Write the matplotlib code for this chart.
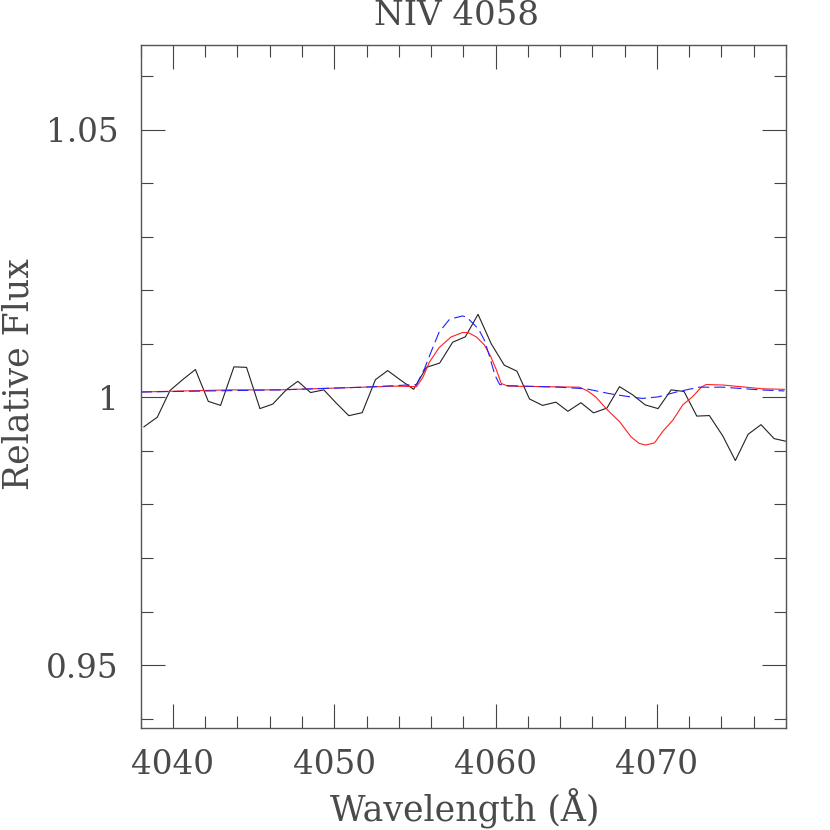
import matplotlib
matplotlib.use('Agg')
import matplotlib.pyplot as plt
from matplotlib.ticker import MultipleLocator

# observed spectrum (black)
lam_obs = [4038.2, 4039.03, 4039.82, 4040.6, 4041.39, 4042.19, 4042.95, 4043.78, 4044.56,
           4045.39, 4046.19, 4047.02, 4047.74, 4048.53, 4049.35, 4050.1, 4050.9, 4051.73,
           4052.55, 4053.31, 4054.12, 4054.92, 4055.71, 4056.53, 4057.34, 4058.12, 4058.91,
           4059.73, 4060.54, 4061.32, 4062.1, 4062.91, 4063.74, 4064.48, 4065.29, 4066.07,
           4066.9, 4067.68, 4068.48, 4069.27, 4070.07, 4070.88, 4071.68, 4072.47, 4073.25,
           4074.08, 4074.86, 4075.65, 4076.45, 4077.26, 4078.0]
flux_obs = [0.9945, 0.9963, 1.0013, 1.0033, 1.0052, 0.99925, 0.9985, 1.0057, 1.0056,
            0.9979, 0.99875, 1.0014, 1.0030, 1.0009, 1.0014, 0.9990, 0.99658, 0.99714,
            1.0033, 1.0050, 1.0032, 1.0015, 1.0056, 1.0064, 1.0103, 1.0113, 1.0155,
            1.0100, 1.0060, 1.0049, 0.9997, 0.9985, 0.9991, 0.9974, 0.9990, 0.9971,
            0.9980, 1.0020, 1.0005, 0.9986, 0.9979, 1.0014, 1.0011, 0.9965, 0.9966,
            0.9928, 0.9882, 0.9931, 0.9949, 0.9923, 0.9918]

# model 1 (red, solid)
lam_red = [4038.0, 4043.5, 4046.6, 4049.7, 4051.8, 4053.85, 4055.1, 4055.5, 4055.9, 4056.5,
           4057.25, 4057.95, 4058.3, 4058.8, 4059.3, 4059.7, 4060.05, 4060.35, 4060.75,
           4062.9, 4065.2, 4065.7, 4066.2, 4066.85, 4067.7, 4068.4, 4068.9, 4069.3, 4069.85,
           4070.35, 4071.0, 4071.6, 4072.2, 4072.75, 4073.05, 4074.1, 4075.5, 4076.55, 4077.9]
flux_red = [1.0010, 1.0014, 1.0014, 1.0017, 1.0019, 1.0021, 1.0020, 1.0038, 1.0066, 1.0093,
            1.0113, 1.0121, 1.0121, 1.0113, 1.0098, 1.0076, 1.0051, 1.0026, 1.0021,
            1.0020, 1.0019, 1.0012, 1.0001, 0.9979, 0.9954, 0.9926, 0.9914, 0.9911, 0.9915,
            0.9936, 0.9958, 0.9986, 1.0001, 1.0019, 1.0024, 1.0023, 1.0019, 1.0016, 1.0015]

# model 2 (blue, dashed)
lam_blue = [4038.0, 4046.6, 4051.8, 4054.5, 4055.1, 4055.6, 4056.0, 4056.5, 4057.15, 4057.95,
            4058.2, 4058.6, 4058.95, 4059.3, 4059.6, 4059.95, 4060.25, 4060.65, 4063.95,
            4065.6, 4067.05, 4068.1, 4069.1, 4070.1, 4071.2, 4072.6, 4074.1, 4076.35, 4077.9]
flux_blue = [1.0010, 1.0014, 1.0019, 1.0023, 1.0024, 1.0054, 1.0085, 1.0122, 1.0146, 1.0152,
             1.0150, 1.0138, 1.0127, 1.0107, 1.0079, 1.0042, 1.0024, 1.0022, 1.0019,
             1.0016, 1.0007, 1.0002, 0.9998, 1.0001, 1.0010, 1.0019, 1.0019, 1.0014, 1.0012]

txtcol = '#4a4a4a'
plt.rcParams['font.family'] = 'DejaVu Serif'
plt.rcParams['font.size'] = 23.5

fig = plt.figure(figsize=(8.3, 8.3), dpi=100)
ax = fig.add_axes([140.7/830, (830-728.3)/830, 645.3/830, 683.3/830])

ax.plot(lam_obs, flux_obs, color='#222222', lw=0.8)
ax.plot(lam_red, flux_red, color='#ff2020', lw=0.8)
ax.plot(lam_blue, flux_blue, color='#2020ff', lw=0.8, dashes=(10, 4.5))

ax.set_xlim(4038, 4078)
ax.set_ylim(0.9382, 1.0658)

ax.xaxis.set_major_locator(MultipleLocator(10))
ax.xaxis.set_minor_locator(MultipleLocator(2))
ax.yaxis.set_major_locator(MultipleLocator(0.05))
ax.yaxis.set_minor_locator(MultipleLocator(0.01))
ax.set_yticks([0.95, 1.0, 1.05])
ax.set_yticklabels(['0.95', '1', '1.05'])

ax.tick_params(which='both', direction='in', top=True, right=True, color='#444444',
               width=0.8, labelcolor=txtcol)
ax.tick_params(which='major', length=17)
ax.tick_params(which='minor', length=8.6)
ax.tick_params(axis='x', pad=15)
ax.tick_params(axis='y', pad=16)
for s in ax.spines.values():
    s.set_color('#555555')
    s.set_linewidth(1.0)

ax.set_xlabel('Wavelength (Å)', color=txtcol, fontsize=25)
ax.xaxis.set_label_coords(0.502, -0.1165)
ax.xaxis.label.set_va('center')
ax.set_ylabel('Relative Flux', color=txtcol, fontsize=25)
ax.yaxis.set_label_coords(-0.190, 0.5185)
ax.yaxis.label.set_va('center')
ax.text(0.489, 1.0293, 'NIV 4058', transform=ax.transAxes, ha='center', va='baseline',
        color=txtcol, fontsize=24.5)

fig.savefig('out.png', dpi=100)
